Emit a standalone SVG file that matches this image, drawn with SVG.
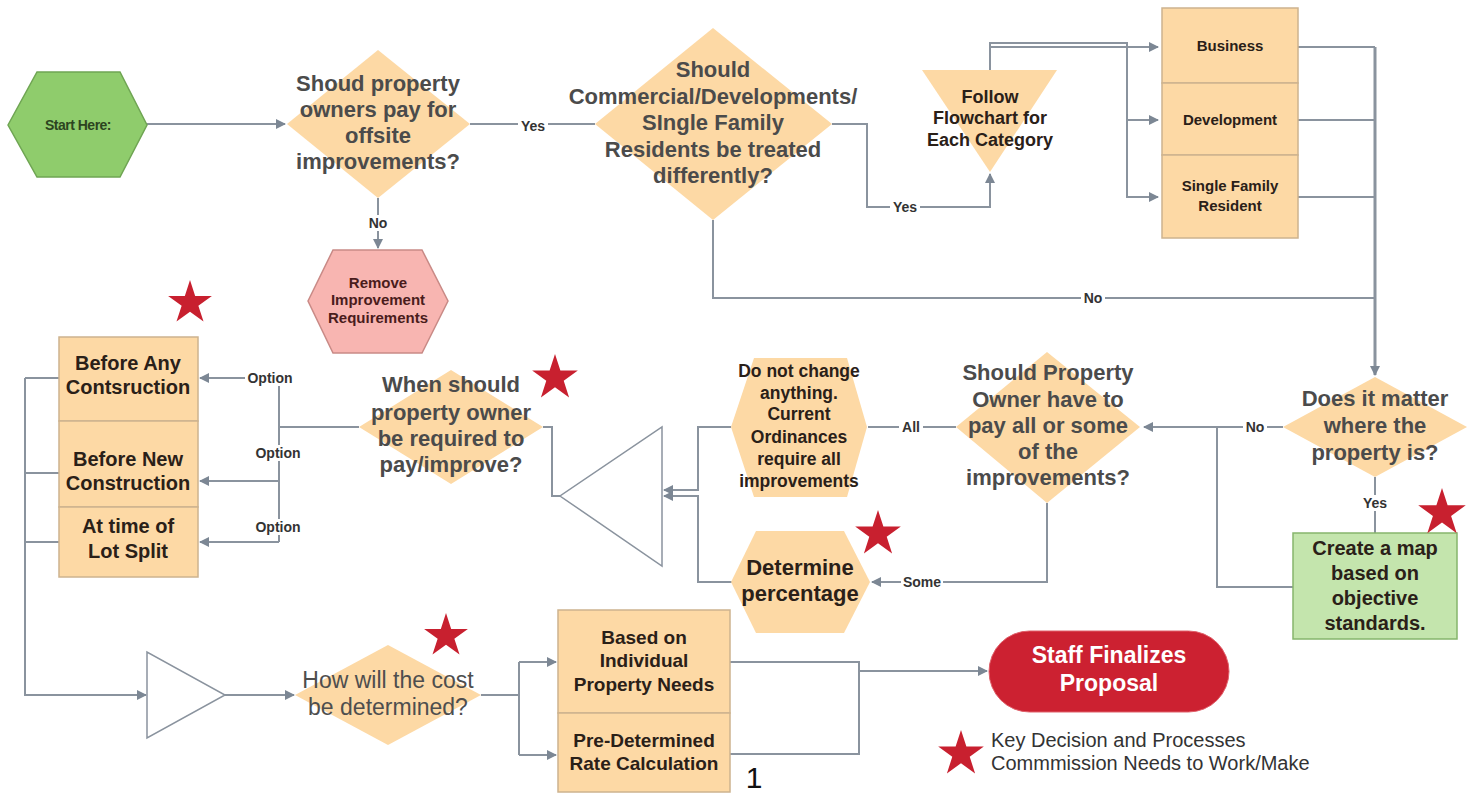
<svg xmlns="http://www.w3.org/2000/svg" xmlns:xlink="http://www.w3.org/1999/xlink" width="1468" height="794" viewBox="0 0 1468 794">
<style>
text{font-family:"Liberation Sans",Arial,sans-serif;text-anchor:middle;dominant-baseline:central}
.dq{font-size:22px;font-weight:bold;fill:#4b4b4b}
.bx{font-weight:bold;fill:#2a2018}
.lb{font-size:14px;font-weight:bold;fill:#333}
.ln{fill:none;stroke:#8a939e;stroke-width:2}
.dia{fill:#fdd9a5}
.box{fill:#fdd9a5;stroke:#cdb38f;stroke-width:1.5}
.star{fill:#c8202f}
</style>
<defs>
<marker id="ar" viewBox="0 0 10 10" refX="9" refY="5" markerWidth="10" markerHeight="10" markerUnits="userSpaceOnUse" orient="auto">
<path d="M0,0 L10,5 L0,10 Z" fill="#7c8794"/>
</marker>
<path id="st" d="M0,-25 L5.61,-7.73 L23.78,-7.73 L9.08,2.95 L14.69,20.23 L0,9.55 L-14.69,20.23 L-9.08,2.95 L-23.78,-7.73 L-5.61,-7.73 Z"/>
</defs>
<rect width="1468" height="794" fill="#ffffff"/>

<g id="connectors">
<path class="ln" d="M147,124 H285" marker-end="url(#ar)"/>
<path class="ln" d="M470,124 H595"/>
<path class="ln" d="M378,198 V248" marker-end="url(#ar)"/>
<path class="ln" d="M832,124 H867 V207 H990 V174" marker-end="url(#ar)"/>
<path class="ln" d="M990,70 V43 H1127 V197 H1158" marker-end="url(#ar)"/>
<path class="ln" d="M990,47 H1158" marker-end="url(#ar)"/>
<path class="ln" d="M1127,120 H1158" marker-end="url(#ar)"/>
<path class="ln" d="M1298,47 H1375 M1298,120 H1375 M1298,197 H1375"/>
<path class="ln" d="M713,220 V298 H1375"/>
<path class="ln" d="M1375,47 V375" style="stroke-width:3" marker-end="url(#ar)"/>
<path class="ln" d="M1283,427 H1144" marker-end="url(#ar)"/>
<path class="ln" d="M1375,477 V533"/>
<path class="ln" d="M1293,587 H1217 V427"/>
<path class="ln" d="M956,427 H868"/>
<path class="ln" d="M1047,503 V582 H872" marker-end="url(#ar)"/>
<path class="ln" d="M731,427 H698 V490 H664" marker-end="url(#ar)"/>
<path class="ln" d="M733,582 H698 V496 H664" marker-end="url(#ar)"/>
<path class="ln" d="M560,496 H552 V427 H543"/>
<path class="ln" d="M359,427 H279"/>
<path class="ln" d="M279,542 V378 H200" marker-end="url(#ar)"/>
<path class="ln" d="M279,481 H200" marker-end="url(#ar)"/>
<path class="ln" d="M279,542 H200" marker-end="url(#ar)"/>
<path class="ln" d="M59,378 H25 M59,473 H25 M59,542 H25"/>
<path class="ln" d="M25,378 V695 H146" marker-end="url(#ar)"/>
<path class="ln" d="M225,695 H294" marker-end="url(#ar)"/>
<path class="ln" d="M481,695 H519 M519,662 V755"/>
<path class="ln" d="M519,662 H556" marker-end="url(#ar)"/>
<path class="ln" d="M519,755 H556" marker-end="url(#ar)"/>
<path class="ln" d="M730,662 H859 V754 H730"/>
<path class="ln" d="M859,671 H987" marker-end="url(#ar)"/>
</g>

<g id="labels">
<rect x="518" y="118" width="30" height="16" fill="#fff"/><text class="lb" x="533" y="126">Yes</text>
<rect x="367" y="215" width="22" height="16" fill="#fff"/><text class="lb" x="378" y="223">No</text>
<rect x="890" y="199" width="30" height="16" fill="#fff"/><text class="lb" x="905" y="207">Yes</text>
<rect x="1081" y="290" width="24" height="16" fill="#fff"/><text class="lb" x="1093" y="298">No</text>
<rect x="1243" y="419" width="24" height="16" fill="#fff"/><text class="lb" x="1255" y="427">No</text>
<rect x="1360" y="495" width="30" height="16" fill="#fff"/><text class="lb" x="1375" y="503">Yes</text>
<rect x="899" y="419" width="24" height="16" fill="#fff"/><text class="lb" x="911" y="427">All</text>
<rect x="901" y="574" width="42" height="16" fill="#fff"/><text class="lb" x="922" y="582">Some</text>
<rect x="245" y="370" width="50" height="16" fill="#fff"/><text class="lb" x="270" y="378">Option</text>
<rect x="253" y="445" width="50" height="16" fill="#fff"/><text class="lb" x="278" y="453">Option</text>
<rect x="253" y="519" width="50" height="16" fill="#fff"/><text class="lb" x="278" y="527">Option</text>
</g>

<g id="start">
<polygon points="8,125 37,72 120,72 147,125 120,177 37,177" fill="#8fcc6c" stroke="#6fa553" stroke-width="1.5"/>
<text x="78" y="125" style="font-size:14px;font-weight:bold;fill:#2c4420;letter-spacing:-0.5px">Start Here:</text>
</g>

<g id="q-offsite">
<polygon class="dia" points="378,50 470,124 378,198 287,124"/>
<text class="dq" x="378" y="83">Shoud property</text>
<text class="dq" x="378" y="109">owners pay for</text>
<text class="dq" x="378" y="135">offsite</text>
<text class="dq" x="378" y="161">improvements?</text>
</g>

<g id="remove">
<polygon points="308,301 333,250 422,250 448,301 422,353 333,353" fill="#f8b5b1" stroke="#c98a86" stroke-width="1.5"/>
<text class="bx" x="378" y="282" style="font-size:15px;fill:#4a1c1c">Remove</text>
<text class="bx" x="378" y="299" style="font-size:15px;fill:#4a1c1c">Improvement</text>
<text class="bx" x="378" y="317" style="font-size:15px;fill:#4a1c1c">Requirements</text>
</g>

<g id="q-treated">
<polygon class="dia" points="713,28 832,124 713,220 595,124"/>
<text class="dq" x="713" y="69">Should</text>
<text class="dq" x="713" y="96">Commercial/Developments/</text>
<text class="dq" x="713" y="122">SIngle Family</text>
<text class="dq" x="713" y="149">Residents be treated</text>
<text class="dq" x="713" y="175">differently?</text>
</g>

<g id="follow">
<polygon class="dia" points="922,70 1057,70 990,172"/>
<text class="bx" x="990" y="97" style="font-size:18px">Follow</text>
<text class="bx" x="990" y="118" style="font-size:18px">Flowchart for</text>
<text class="bx" x="990" y="140" style="font-size:18px">Each Category</text>
</g>

<g id="categories">
<rect class="box" x="1162" y="8" width="136" height="75"/>
<rect class="box" x="1162" y="83" width="136" height="72"/>
<rect class="box" x="1162" y="155" width="136" height="83"/>
<text class="bx" x="1230" y="45" style="font-size:15px">Business</text>
<text class="bx" x="1230" y="119" style="font-size:15px">Development</text>
<text class="bx" x="1230" y="185" style="font-size:15px">Single Family</text>
<text class="bx" x="1230" y="205" style="font-size:15px">Resident</text>
</g>

<g id="q-location">
<polygon class="dia" points="1375,377 1467,427 1375,477 1283,427"/>
<text class="dq" x="1375" y="398">Does it matter</text>
<text class="dq" x="1375" y="425">where the</text>
<text class="dq" x="1375" y="452">property is?</text>
</g>

<g id="map">
<rect x="1293" y="533" width="164" height="106" fill="#c4e5ad" stroke="#86b56c" stroke-width="1.5"/>
<text class="bx" x="1375" y="548" style="font-size:20px">Create a map</text>
<text class="bx" x="1375" y="573" style="font-size:20px">based on</text>
<text class="bx" x="1375" y="598" style="font-size:20px">objective</text>
<text class="bx" x="1375" y="623" style="font-size:20px">standards.</text>
</g>

<g id="q-allsome">
<polygon class="dia" points="1047,352 1140,427 1047,503 956,427"/>
<text class="dq" x="1048" y="372">Should Property</text>
<text class="dq" x="1048" y="399">Owner have to</text>
<text class="dq" x="1048" y="425">pay all or some</text>
<text class="dq" x="1048" y="451">of the</text>
<text class="dq" x="1048" y="477">improvements?</text>
</g>

<g id="no-change">
<polygon class="dia" points="731,427 754,358 847,358 867,427 847,497 754,497"/>
<text class="bx" x="799" y="371" style="font-size:17.5px">Do not change</text>
<text class="bx" x="799" y="393" style="font-size:17.5px">anything.</text>
<text class="bx" x="799" y="414" style="font-size:17.5px">Current</text>
<text class="bx" x="799" y="437" style="font-size:17.5px">Ordinances</text>
<text class="bx" x="799" y="459" style="font-size:17.5px">require all</text>
<text class="bx" x="799" y="481" style="font-size:17.5px">improvements</text>
</g>

<g id="percentage">
<polygon class="dia" points="731,582 756,531 844,531 870,582 844,633 756,633"/>
<text class="bx" x="800" y="567" style="font-size:22px">Determine</text>
<text class="bx" x="800" y="593" style="font-size:22px">percentage</text>
</g>

<g id="merge-left">
<polygon points="662,427 662,566 560,496" fill="#fff" stroke="#8a939e" stroke-width="1.5"/>
</g>

<g id="q-when">
<polygon class="dia" points="451,370 543,427 451,484 359,427"/>
<text class="dq" x="451" y="384">When should</text>
<text class="dq" x="451" y="412">property owner</text>
<text class="dq" x="451" y="438">be required to</text>
<text class="dq" x="451" y="464">pay/improve?</text>
</g>

<g id="timing">
<rect class="box" x="59" y="337" width="139" height="84"/>
<rect class="box" x="59" y="421" width="139" height="86"/>
<rect class="box" x="59" y="507" width="139" height="70"/>
<text class="bx" x="128" y="363" style="font-size:20px">Before Any</text>
<text class="bx" x="128" y="387" style="font-size:20px">Contsruction</text>
<text class="bx" x="128" y="459" style="font-size:20px">Before New</text>
<text class="bx" x="128" y="483" style="font-size:20px">Construction</text>
<text class="bx" x="128" y="526" style="font-size:20px">At time of</text>
<text class="bx" x="128" y="551" style="font-size:20px">Lot Split</text>
</g>

<g id="merge-bottom">
<polygon points="147,652 147,738 225,695" fill="#fff" stroke="#8a939e" stroke-width="1.5"/>
</g>

<g id="q-cost">
<polygon class="dia" points="388,645 481,695 388,745 295,695"/>
<text x="388" y="680" style="font-size:23px;fill:#4e4e4e">How will the cost</text>
<text x="388" y="707" style="font-size:23px;fill:#4e4e4e">be determined?</text>
</g>

<g id="cost-methods">
<rect class="box" x="558" y="610" width="172" height="103"/>
<rect class="box" x="558" y="713" width="172" height="79"/>
<text class="bx" x="644" y="637" style="font-size:19px">Based on</text>
<text class="bx" x="644" y="660" style="font-size:19px">Individual</text>
<text class="bx" x="644" y="684" style="font-size:19px">Property Needs</text>
<text class="bx" x="644" y="740" style="font-size:19px">Pre-Determined</text>
<text class="bx" x="644" y="763" style="font-size:19px">Rate Calculation</text>
</g>

<g id="staff">
<rect x="989" y="631" width="240" height="81" rx="40.5" fill="#cc2131" stroke="#e0606a" stroke-width="1"/>
<text x="1109" y="655" style="font-size:23px;font-weight:bold;fill:#ffffff">Staff Finalizes</text>
<text x="1109" y="683" style="font-size:23px;font-weight:bold;fill:#ffffff">Proposal</text>
</g>

<g id="stars">
<use xlink:href="#st" class="star" transform="translate(190,303) scale(0.92)"/>
<use xlink:href="#st" class="star" transform="translate(555,378) scale(0.96)"/>
<use xlink:href="#st" class="star" transform="translate(878,534) scale(0.96)"/>
<use xlink:href="#st" class="star" transform="translate(446,636) scale(0.92)"/>
<use xlink:href="#st" class="star" transform="translate(1442,513) scale(1)"/>
</g>

<g id="legend">
<use xlink:href="#st" class="star" transform="translate(961,754) scale(0.96)"/>
<text x="991" y="740" style="font-size:20px;fill:#333;text-anchor:start">Key Decision and Processes</text>
<text x="991" y="763" style="font-size:20px;fill:#333;text-anchor:start">Commmission Needs to Work/Make</text>
</g>

<g id="page-number">
<text x="754" y="777" style="font-size:30px;fill:#111">1</text>
</g>
</svg>
